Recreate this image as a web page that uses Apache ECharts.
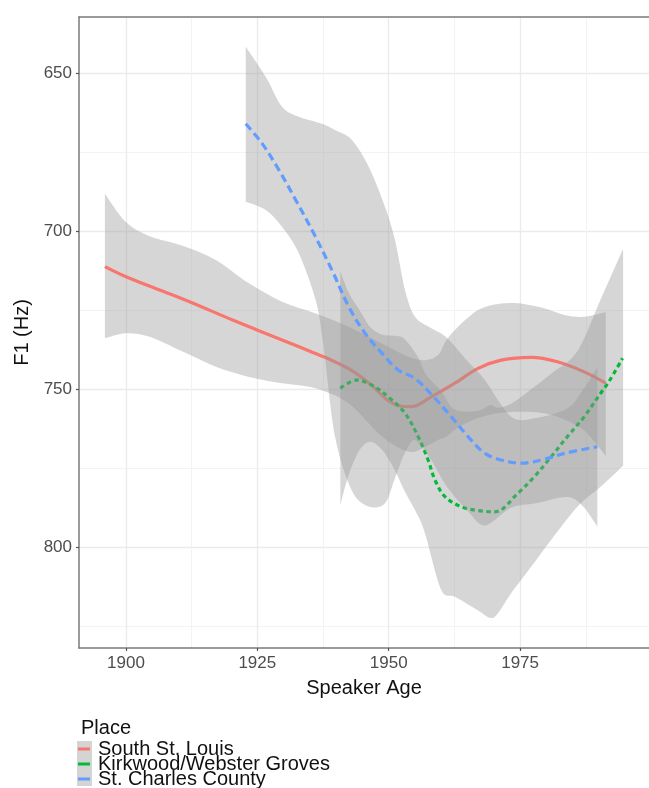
<!DOCTYPE html>
<html>
<head>
<meta charset="utf-8">
<script src="https://cdn.jsdelivr.net/npm/echarts@6/dist/echarts.min.js"></script>
<style>
html,body{margin:0;padding:0;background:#fff;}
#chart{width:649px;height:788px;}
</style>
</head>
<body>
<div id="chart"></div>
<script>
// ---- data ----
const seriesNames = ['South St. Louis', 'Kirkwood/Webster Groves', 'St. Charles County'];

// South St. Louis fit
const redYears = [1896, 1900, 1906.4, 1912.1, 1920.3, 1929.7, 1935, 1939.2, 1943, 1946.5, 1950, 1952.5, 1954.4, 1958.1, 1962.6, 1967, 1971.4, 1977.1, 1982.1, 1987.2, 1991.3];
const redFit = [711.1, 714.3, 718.5, 722.2, 728, 734.3, 737.9, 740.8, 744, 748.3, 753.6, 755.3, 755.4, 752.3, 748, 743.3, 740.7, 739.8, 741.2, 744.4, 748];
// South St. Louis confidence band
const redBandYears = [1896, 1900, 1904.5, 1910.8, 1917.1, 1923.4, 1929.7, 1936.1, 1942.4, 1948.7, 1953.8, 1957, 1959.4, 1961, 1963.2, 1967, 1970.8, 1974.6, 1979.6, 1983.4, 1987.2, 1991.3];
const redUpper = [688, 697, 701.5, 704.5, 709, 716.4, 722.2, 725.9, 730.1, 735.4, 739.6, 740.7, 739.1, 734.3, 730.1, 724.8, 722.9, 722.7, 724.3, 726.4, 727, 725.5];
const redLower = [733.8, 732.2, 733.3, 738, 742.8, 746, 748, 749.6, 754.4, 764.9, 769.7, 768.1, 766, 764.9, 762, 759, 757.5, 757, 757.5, 759.5, 763, 771];

// Kirkwood/Webster Groves fit
const greenYears = [1940.8, 1943.9, 1946.8, 1949.9, 1953.1, 1955.6, 1957.5, 1958.8, 1960.7, 1963.8, 1967, 1970.2, 1974.6, 1977.7, 1980.9, 1984, 1987.2, 1990.3, 1991.9, 1994.5];
const greenFit = [749.6, 747, 748.6, 752.3, 757.5, 764.9, 772.3, 778.6, 783.9, 787.1, 788.3, 788.7, 782.8, 777.6, 771.3, 764.9, 758.6, 751.2, 747.5, 740.1];
// Kirkwood/Webster Groves confidence band
const greenBandYears = [1940.8, 1942.4, 1944.5, 1946.5, 1948.7, 1951, 1953, 1955.6, 1957, 1960, 1962.6, 1967, 1969.4, 1970.8, 1973.3, 1977.1, 1980.9, 1985.9, 1990.3, 1994.6];
const greenUpper = [712.6, 719.4, 725, 730.3, 732.6, 733, 734, 739.8, 745, 750.6, 756.4, 756.7, 754.9, 755.8, 754.5, 749.9, 745, 737.9, 721.6, 705.5];
const greenLower = [786.6, 777, 769, 766.5, 769, 775, 782, 790, 796, 813.4, 815.6, 819.9, 822.3, 820.8, 814.5, 806.1, 797.6, 787.1, 780.8, 774.1];

// St. Charles County fit
const blueYears = [1922.8, 1925.9, 1929.1, 1932.3, 1935.4, 1939.2, 1942.4, 1945.5, 1948.7, 1951.8, 1955, 1958.1, 1961.9, 1965.1, 1968.3, 1971.4, 1975.2, 1979.6, 1983.4, 1989.7];
const blueFit = [665.9, 672.1, 680.5, 690, 699.5, 712.2, 723.8, 732.2, 738.5, 743.8, 746.5, 751.5, 758.6, 764.9, 770.2, 772.3, 773.3, 772.1, 770.2, 768.1];
// St. Charles County confidence band
const blueBandYears = [1922.8, 1926.6, 1929.7, 1932.9, 1936.1, 1937.5, 1939.8, 1943, 1946.2, 1949.3, 1951.2, 1953.1, 1955, 1958.1, 1961, 1965, 1968.3, 1973.3, 1978, 1984, 1987, 1989.7];
const blueUpper = [641.5, 651, 660.5, 663.7, 665.3, 666, 667.9, 671, 679.5, 692.2, 702.7, 718.5, 727, 730.6, 733.5, 741, 747, 758.6, 759, 756, 750, 743];
const blueLower = [690.6, 693.2, 698.5, 706.9, 721.7, 735, 765, 782, 787, 786, 778, 770, 766, 772.4, 780.5, 788.4, 793, 787.4, 786, 784, 787, 793.4];

// axis ticks
const xMajorTicks = [1900, 1925, 1950, 1975];
const xMinorTicks = [1912.5, 1937.5, 1962.5, 1987.5];
const yMajorTicks = [650, 700, 750, 800];
const yMinorTicks = [675, 725, 775, 825];
const xRange = [1891.07, 1999.53];
const yRange = [632.1, 831.8];

// ---- chart ----
const colors = ['#F8766D', '#00BA38', '#619CFF'];
const bandFill = 'rgba(153,153,153,0.4)';
const FONT = 'Liberation Sans, Arial, sans-serif';

function pairs(xs, ys) { return xs.map((x, i) => [x, ys[i]]); }

function catmull(pts) {
  let d = '';
  for (let i = 0; i < pts.length - 1; i++) {
    const p0 = pts[i - 1] || pts[i];
    const p1 = pts[i];
    const p2 = pts[i + 1];
    const p3 = pts[i + 2] || p2;
    const t = 0.16;
    const c1 = [p1[0] + (p2[0] - p0[0]) * t, p1[1] + (p2[1] - p0[1]) * t];
    const c2 = [p2[0] - (p3[0] - p1[0]) * t, p2[1] - (p3[1] - p1[1]) * t];
    d += ' C' + c1[0] + ' ' + c1[1] + ' ' + c2[0] + ' ' + c2[1] + ' ' + p2[0] + ' ' + p2[1];
  }
  return d;
}

function bandSeries(name, xs, lo, hi, z) {
  return {
    name: name,
    type: 'custom',
    z: z,
    silent: true,
    clip: true,
    data: xs.map((x, i) => [x, lo[i], hi[i]]),
    encode: { x: 0, y: [1, 2] },
    renderItem: function (params, api) {
      if (params.dataIndex !== 0) return;
      const up = xs.map((x, i) => api.coord([x, hi[i]]));
      const dn = xs.map((x, i) => api.coord([x, lo[i]])).reverse();
      let d = 'M' + up[0][0] + ' ' + up[0][1] + catmull(up);
      d += ' L' + dn[0][0] + ' ' + dn[0][1] + catmull(dn) + ' Z';
      return { type: 'path', shape: { pathData: d }, style: { fill: bandFill } };
    }
  };
}

function lineSeries(name, xs, ys, color, type, z) {
  return {
    name: name,
    type: 'line',
    z: z,
    data: pairs(xs, ys),
    smooth: 0.35,
    showSymbol: false,
    symbol: 'none',
    silent: true,
    itemStyle: { color: color },
    lineStyle: { color: color, width: 3.2, type: type, cap: 'butt' }
  };
}

function legendFor(i, top) {
  return {
    data: [seriesNames[i]],
    orient: 'vertical', left: 78, top: top, padding: 0,
    itemWidth: 12, itemHeight: 3, icon: 'rect',
    selectedMode: false, z: 10,
    textStyle: { fontSize: 20, color: '#111', padding: [0, 0, 0, 3], fontFamily: FONT }
  };
}

const tickLabelStyle = { color: '#4d4d4d', fontSize: 17, fontFamily: FONT, formatter: v => String(v) };
const frameLine = { show: true, lineStyle: { color: '#7a7a7a', width: 1.5 } };

const chart = echarts.init(document.getElementById('chart'), null, { renderer: 'canvas' });
chart.setOption({
  backgroundColor: '#ffffff',
  animation: false,
  grid: { left: 79, width: 573, top: 17, bottom: 140, show: false, containLabel: false },
  title: {
    text: 'Place', left: 81, top: 718, padding: 0,
    textStyle: { fontSize: 20, fontWeight: 'normal', color: '#111', fontFamily: FONT }
  },
  legend: [legendFor(0, 739), legendFor(1, 754), legendFor(2, 769)],
  graphic: [{ type: 'rect', left: 77, top: 741, z: 1, shape: { width: 15, height: 45 }, style: { fill: '#d4d4d4' } }],
  xAxis: [{
    type: 'value', min: xRange[0], max: xRange[1], position: 'bottom',
    name: 'Speaker Age', nameLocation: 'middle', nameGap: 30,
    nameTextStyle: { fontSize: 20, color: '#111', fontFamily: FONT },
    axisLine: frameLine,
    axisTick: { show: true, length: 3, customValues: xMajorTicks, lineStyle: { color: '#555', width: 1.2 } },
    axisLabel: Object.assign({ margin: 7, customValues: xMajorTicks, showMinLabel: true, showMaxLabel: true }, tickLabelStyle),
    splitLine: { show: true, lineStyle: { color: '#ebebeb', width: 1.3 } }
  }, {
    type: 'value', min: xRange[0], max: xRange[1], position: 'top',
    axisLine: frameLine, axisLabel: { show: false },
    axisTick: { show: false, customValues: xMinorTicks },
    splitLine: { show: true, lineStyle: { color: '#f3f3f3', width: 1 } }
  }],
  yAxis: [{
    type: 'value', min: yRange[0], max: yRange[1], inverse: true, position: 'left',
    name: 'F1 (Hz)', nameLocation: 'middle', nameGap: 36,
    nameTextStyle: { fontSize: 20, color: '#111', fontFamily: FONT },
    axisLine: frameLine,
    axisTick: { show: true, length: 3, customValues: yMajorTicks, lineStyle: { color: '#555', width: 1.2 } },
    axisLabel: Object.assign({ margin: 7, customValues: yMajorTicks }, tickLabelStyle),
    splitLine: { show: true, lineStyle: { color: '#ebebeb', width: 1.3 } }
  }, {
    type: 'value', min: yRange[0], max: yRange[1], inverse: true, position: 'left',
    axisLine: { show: false }, axisLabel: { show: false },
    axisTick: { show: false, customValues: yMinorTicks },
    splitLine: { show: true, lineStyle: { color: '#f3f3f3', width: 1 } }
  }],
  series: [
    bandSeries('band-red', redBandYears, redLower, redUpper, 2),
    lineSeries(seriesNames[0], redYears, redFit, colors[0], 'solid', 3),
    bandSeries('band-green', greenBandYears, greenLower, greenUpper, 4),
    lineSeries(seriesNames[1], greenYears, greenFit, colors[1], [4.5, 3.5], 5),
    bandSeries('band-blue', blueBandYears, blueLower, blueUpper, 6),
    lineSeries(seriesNames[2], blueYears, blueFit, colors[2], [8, 4.5], 7)
  ]
});
</script>
</body>
</html>
